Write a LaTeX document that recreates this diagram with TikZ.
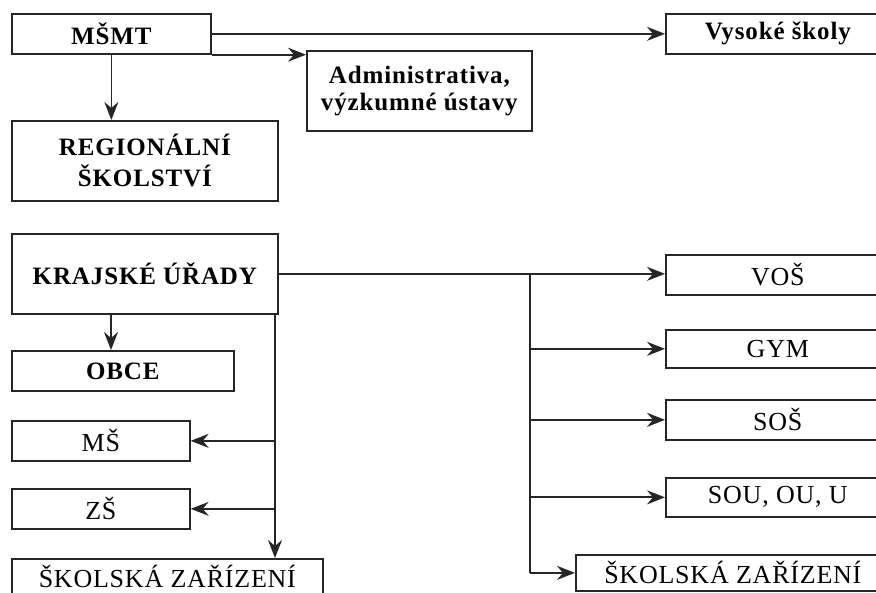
\documentclass[tikz,border=0pt]{standalone}
\usepackage{fontspec}
\setmainfont{Liberation Serif}
\newfontfamily\regfont[LetterSpace=3]{Liberation Serif}
\newfontfamily\boldfont[LetterSpace=3.5]{Liberation Serif Bold}
\usetikzlibrary{arrows.meta}
\begin{document}
\begin{tikzpicture}[x=1pt,y=-1pt,
  box/.style={draw=black!85, line width=1.7pt, inner sep=0pt, anchor=north west, align=center,
    font=\regfont\fontsize{26}{29}\selectfont},
  bbox/.style={box, font=\boldfont\fontsize{25}{27}\selectfont},
  arr/.style={line width=1.7pt, draw=black!85, -{Stealth[length=18pt,width=14pt,inset=6pt]}},
  ln/.style={line width=1.7pt, draw=black!85}]
\useasboundingbox (0,0) rectangle (876,593);
% top part
\node[bbox, minimum width=199pt, minimum height=40pt] (msmt) at (11,13) {MŠMT};
\node[bbox, minimum width=224pt, minimum height=40pt] (vs) at (665,13) {Vysoké školy};
\node[bbox, minimum width=225pt, minimum height=80pt] (adm) at (306,50) {Administrativa,\\výzkumné ústavy};
\node[bbox, minimum width=266pt, minimum height=80pt, font=\boldfont\fontsize{25}{31}\selectfont] (reg) at (11,120) {REGIONÁLNÍ\\ŠKOLSTVÍ};
% lower part
\node[bbox, minimum width=266pt, minimum height=80pt] (kraj) at (11,233) {KRAJSKÉ ÚŘADY};
\node[bbox, minimum width=222pt, minimum height=40pt] (obce) at (11,350) {OBCE};
\node[box, minimum width=178pt, minimum height=40pt] (ms) at (11,420) {MŠ};
\node[box, minimum width=178pt, minimum height=40pt] (zs) at (11,488) {ZŠ};
\node[box, minimum width=311pt, minimum height=36pt] (szl) at (11,558) {ŠKOLSKÁ ZAŘÍZENÍ};
\node[box, minimum width=224pt, minimum height=40pt] (vos) at (665,254) {VOŠ};
\node[box, minimum width=224pt, minimum height=38pt] (gym) at (665,329) {GYM};
\node[box, minimum width=224pt, minimum height=40pt] (sos) at (665,399) {SOŠ};
\node[box, minimum width=224pt, minimum height=39pt] (sou) at (665,477) {SOU, OU, U};
\node[box, minimum width=314pt, minimum height=36pt] (szr) at (575,554) {ŠKOLSKÁ ZAŘÍZENÍ};
% connectors top
\draw[arr] (msmt.east) -- (msmt.east -| vs.west);
\draw[arr] (msmt.south east) -- (msmt.south east -| adm.west);
\draw[arr] (msmt.south) -- (msmt.south |- reg.north);
% connectors lower
\coordinate (ko) at (111,313);
\draw[arr] (ko) -- (ko |- obce.north);
\draw[arr] (kraj.east) -- (kraj.east -| vos.west);
\coordinate (rj) at (530,273);
\draw[ln] (rj) -- (rj |- szr.west);
\draw[arr] (rj |- gym.west) -- (gym.west);
\draw[arr] (rj |- sos.west) -- (sos.west);
\draw[arr] (rj |- sou.west) -- (sou.west);
\draw[arr] (rj |- szr.west) -- (szr.west);
\coordinate (lj) at (275,313);
\draw[arr] (lj) -- (lj |- szl.north);
\draw[arr] (lj |- ms.east) -- (ms.east);
\draw[arr] (lj |- zs.east) -- (zs.east);
\end{tikzpicture}
\end{document}
